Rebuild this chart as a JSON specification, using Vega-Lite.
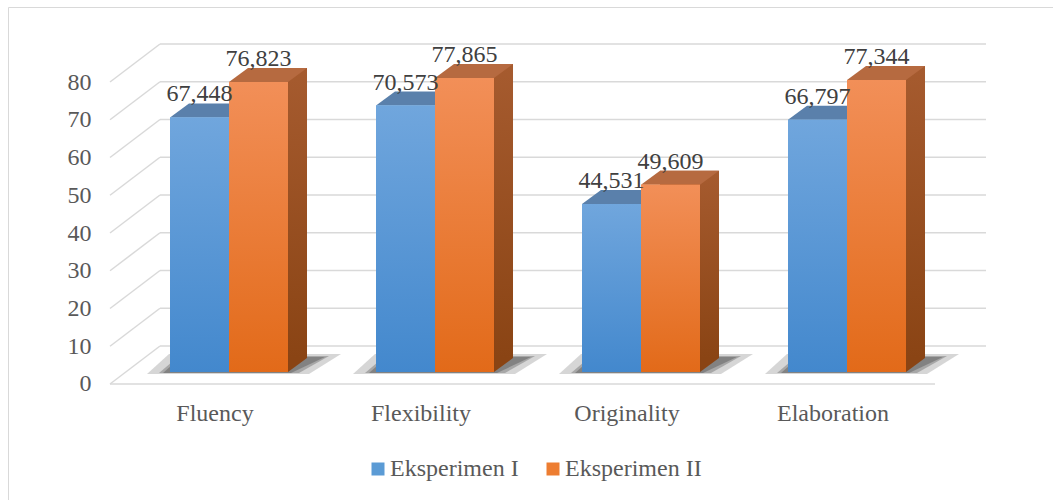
{
  "$schema": "https://vega.github.io/schema/vega-lite/v6.json",
  "width": 1045,
  "height": 493,
  "autosize": {"type": "none"},
  "padding": {"left": 8, "top": 7, "right": 0, "bottom": 0},
  "background": "#ffffff",
  "config": {
    "view": {"stroke": "#d9d9d9", "strokeWidth": 1},
    "locale": {"number": {"decimal": ",", "thousands": ".", "grouping": [3], "currency": ["", ""]}},
    "font": "Liberation Serif",
    "axisX": {"labelOffset": -14, "offset": -116, "ticks": false, "tickSize": 0, "domain": false, "grid": false, "labelPadding": 36, "labelBaseline": "alphabetic", "labelFont": "Liberation Serif", "labelFontSize": 24, "labelColor": "#595959", "labelAngle": 0},
    "axisY": {"offset": -83, "ticks": false, "tickSize": 0, "domain": false, "grid": false, "labelPadding": 0, "labelFont": "Liberation Serif", "labelFontSize": 24, "labelColor": "#595959"}
  },
  "datasets": {
    "bars": [
      {"Kategori": "Fluency", "Series": "Eksperimen I", "Nilai": 67.448},
      {"Kategori": "Fluency", "Series": "Eksperimen II", "Nilai": 76.823},
      {"Kategori": "Flexibility", "Series": "Eksperimen I", "Nilai": 70.573},
      {"Kategori": "Flexibility", "Series": "Eksperimen II", "Nilai": 77.865},
      {"Kategori": "Originality", "Series": "Eksperimen I", "Nilai": 44.531},
      {"Kategori": "Originality", "Series": "Eksperimen II", "Nilai": 49.609},
      {"Kategori": "Elaboration", "Series": "Eksperimen I", "Nilai": 66.797},
      {"Kategori": "Elaboration", "Series": "Eksperimen II", "Nilai": 77.344}
    ],
    "grid": [{"v": 0}, {"v": 10}, {"v": 20}, {"v": 30}, {"v": 40}, {"v": 50}, {"v": 60}, {"v": 70}, {"v": 80}]
  },
  "layer": [
    {
      "data": {"name": "grid"},
      "mark": {"type": "rule", "color": "#d9d9d9", "strokeWidth": 1.5, "xOffset": -69, "x2Offset": 139, "yOffset": -38},
      "encoding": {
        "x": {"datum": "Fluency", "type": "nominal", "axis": {"title": null}},
        "x2": {"datum": "Elaboration"},
        "y": {"field": "v", "type": "quantitative", "axis": {"title": null, "values": [0, 10, 20, 30, 40, 50, 60, 70, 80]}}
      }
    },
    {
      "data": {"name": "grid"},
      "mark": {"type": "rule", "color": "#d9d9d9", "strokeWidth": 1.5, "xOffset": -119, "x2Offset": -69, "y2Offset": -38},
      "encoding": {
        "x": {"datum": "Fluency", "type": "nominal", "axis": {"title": null}},
        "x2": {"datum": "Fluency"},
        "y": {"field": "v", "type": "quantitative", "axis": {"title": null, "values": [0, 10, 20, 30, 40, 50, 60, 70, 80]}},
        "y2": {"field": "v"}
      }
    },
    {
      "data": {"name": "grid"},
      "transform": [{"filter": "datum.v === 0"}],
      "mark": {"type": "rule", "color": "#d9d9d9", "strokeWidth": 1.5, "xOffset": -119, "x2Offset": 88},
      "encoding": {
        "x": {"datum": "Fluency", "type": "nominal", "axis": {"title": null}},
        "x2": {"datum": "Elaboration"},
        "y": {"field": "v", "type": "quantitative", "axis": {"title": null, "values": [0, 10, 20, 30, 40, 50, 60, 70, 80]}}
      }
    },
    {
      "data": {"name": "bars"},
      "transform": [{"filter": "datum.Series === 'Eksperimen I'"}],
      "mark": {"type": "point", "shape": "M -1.64 0.04 L 1.6 0.04 L 2.24 -0.36 L -1.2 -0.36 Z", "size": 10000, "filled": true, "opacity": 0.2, "color": "#303030", "strokeWidth": 0, "yOffset": -12},
      "encoding": {
        "x": {"field": "Kategori", "type": "nominal", "axis": {"title": null}},
        "y": {"datum": 0, "type": "quantitative", "axis": {"title": null, "values": [0, 10, 20, 30, 40, 50, 60, 70, 80]}}
      }
    },
    {
      "data": {"name": "bars"},
      "transform": [{"filter": "datum.Series === 'Eksperimen I'"}],
      "mark": {"type": "point", "shape": "M -1.4 0.02 L 1.4 0.02 L 2 -0.32 L -1 -0.32 Z", "size": 10000, "filled": true, "opacity": 0.28, "color": "#303030", "strokeWidth": 0, "yOffset": -12},
      "encoding": {
        "x": {"field": "Kategori", "type": "nominal", "axis": {"title": null}},
        "y": {"datum": 0, "type": "quantitative", "axis": {"title": null, "values": [0, 10, 20, 30, 40, 50, 60, 70, 80]}}
      }
    },
    {
      "data": {"name": "bars"},
      "transform": [{"filter": "datum.Series === 'Eksperimen I'"}],
      "mark": {"type": "point", "shape": "M -1.32 0.02 L 1.24 0.02 L 1.92 -0.3 L -0.96 -0.3 Z", "size": 10000, "filled": true, "opacity": 0.3, "color": "#303030", "strokeWidth": 0, "yOffset": -12},
      "encoding": {
        "x": {"field": "Kategori", "type": "nominal", "axis": {"title": null}},
        "y": {"datum": 0, "type": "quantitative", "axis": {"title": null, "values": [0, 10, 20, 30, 40, 50, 60, 70, 80]}}
      }
    },
    {
      "data": {"name": "bars"},
      "transform": [{"filter": "datum.Series === 'Eksperimen II'"}],
      "mark": {"type": "bar", "width": {"band": 0.5}, "xOffset": 48.5, "yOffset": -26, "y2Offset": -26,
        "color": {"gradient": "linear", "x1": 0, "y1": 0, "x2": 0, "y2": 1, "stops": [{"offset": 0, "color": "#a65b2f"}, {"offset": 1, "color": "#8a4414"}]}},
      "encoding": {
        "x": {"field": "Kategori", "type": "nominal", "axis": {"title": null}},
        "y": {"field": "Nilai", "type": "quantitative", "axis": {"title": null, "values": [0, 10, 20, 30, 40, 50, 60, 70, 80]}},
        "y2": {"datum": 0}
      }
    },
    {
      "data": {"name": "bars"},
      "transform": [{"filter": "datum.Series === 'Eksperimen II'"}],
      "mark": {"type": "point", "shape": "M 0 0 L 0 -0.737 L 1 -0.737 Z", "size": 1444, "filled": true, "opacity": 1, "color": "#8a4414", "strokeWidth": 0, "xOffset": 59, "yOffset": -12},
      "encoding": {
        "x": {"field": "Kategori", "type": "nominal", "axis": {"title": null}},
        "y": {"datum": 0, "type": "quantitative", "axis": {"title": null, "values": [0, 10, 20, 30, 40, 50, 60, 70, 80]}}
      }
    },
    {
      "data": {"name": "bars"},
      "mark": {"type": "point", "shape": "M -1 0 L 1 0 L 1.644 -0.475 L -0.356 -0.475 Z", "size": 3481, "filled": true, "opacity": 1, "strokeWidth": 0, "yOffset": -12},
      "encoding": {
        "x": {"field": "Kategori", "type": "nominal", "axis": {"title": null}},
        "xOffset": {"field": "Series", "type": "nominal"},
        "y": {"field": "Nilai", "type": "quantitative", "axis": {"title": null, "values": [0, 10, 20, 30, 40, 50, 60, 70, 80]}},
        "fill": {"condition": {"test": "datum.Series === 'Eksperimen I'", "value": "#5a80ab"}, "value": "#b66a40"}
      }
    },
    {
      "data": {"name": "bars"},
      "mark": {"type": "bar", "yOffset": -12, "y2Offset": -12},
      "encoding": {
        "x": {
          "field": "Kategori", "type": "nominal", "sort": null,
          "scale": {"type": "band", "domain": ["Fluency", "Flexibility", "Originality", "Elaboration"], "paddingInner": 0.4272, "paddingOuter": 0.75, "align": 0.5243},
          "axis": {"title": null}
        },
        "xOffset": {"field": "Series", "type": "nominal", "scale": {"paddingInner": 0, "paddingOuter": 0}},
        "y": {
          "field": "Nilai", "type": "quantitative",
          "scale": {"domain": [-30.73, 99.87], "nice": false, "zero": false},
          "axis": {"title": null, "values": [0, 10, 20, 30, 40, 50, 60, 70, 80]}
        },
        "y2": {"datum": 0},
        "color": {
          "field": "Series", "type": "nominal",
          "scale": {"range": ["#5b9bd5", "#ed7d31"]},
          "legend": {"title": null, "orient": "none", "legendX": 358, "legendY": 450, "direction": "horizontal", "symbolType": "square", "symbolSize": 169, "symbolStrokeWidth": 0, "labelFont": "Liberation Serif", "labelFontSize": 24, "labelColor": "#595959", "labelOffset": 0, "columnPadding": 22, "padding": 0}
        }
      }
    },
    {
      "data": {"name": "bars"},
      "mark": {"type": "bar", "yOffset": -12, "y2Offset": -12},
      "encoding": {
        "x": {"field": "Kategori", "type": "nominal", "axis": {"title": null}},
        "xOffset": {"field": "Series", "type": "nominal"},
        "y": {"field": "Nilai", "type": "quantitative", "axis": {"title": null, "values": [0, 10, 20, 30, 40, 50, 60, 70, 80]}},
        "y2": {"datum": 0},
        "fill": {
          "condition": {"test": "datum.Series === 'Eksperimen I'", "value": {"gradient": "linear", "x1": 0, "y1": 0, "x2": 0, "y2": 1, "stops": [{"offset": 0, "color": "#70a6dd"}, {"offset": 1, "color": "#4388cd"}]}},
          "value": {"gradient": "linear", "x1": 0, "y1": 0, "x2": 0, "y2": 1, "stops": [{"offset": 0, "color": "#f28f58"}, {"offset": 1, "color": "#e26a19"}]}
        }
      }
    },
    {
      "data": {"name": "bars"},
      "mark": {"type": "text", "yOffset": -28, "baseline": "alphabetic", "align": "center", "font": "Liberation Serif", "fontSize": 24, "color": "#404040"},
      "encoding": {
        "x": {"field": "Kategori", "type": "nominal", "axis": {"title": null}},
        "xOffset": {"field": "Series", "type": "nominal"},
        "y": {"field": "Nilai", "type": "quantitative", "axis": {"title": null, "values": [0, 10, 20, 30, 40, 50, 60, 70, 80]}},
        "text": {"field": "Nilai", "type": "quantitative", "format": ".3f"}
      }
    }
  ]
}
